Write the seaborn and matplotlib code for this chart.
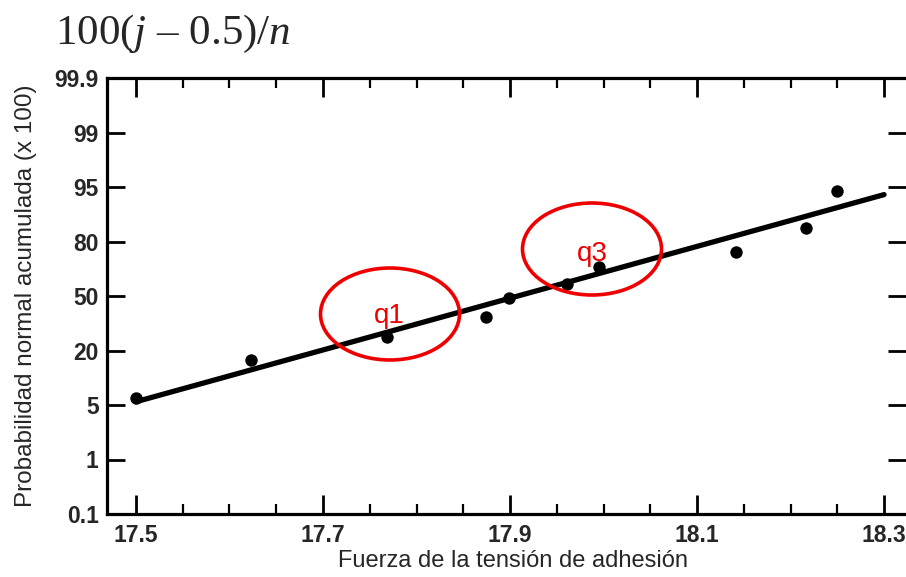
import numpy as np
import pandas as pd
import matplotlib
matplotlib.use("Agg")
import matplotlib.pyplot as plt
import seaborn as sns
from matplotlib.patches import Ellipse

# ---- data ----
fuerza = [17.500, 17.623, 17.768, 17.874, 17.899, 17.961, 17.995, 18.142, 18.217, 18.250]
prob_pct = [6.8, 17.3, 27.2, 38.3, 48.8, 56.6, 65.9, 74.3, 83.6, 93.8]
fit_x = [17.50, 18.30]
fit_pct = [5.9, 92.9]
ytick_vals = [0.1, 1, 5, 20, 50, 80, 95, 99, 99.9]
ytick_labels = ["0.1", "1", "5", "20", "50", "80", "95", "99", "99.9"]
xtick_vals = [17.5, 17.7, 17.9, 18.1, 18.3]
xtick_labels = ["17.5", "17.7", "17.9", "18.1", "18.3"]
annot_labels = ["q1", "q3"]

df = pd.DataFrame({"x": fuerza, "p": prob_pct})
fit = pd.DataFrame({"x": fit_x, "p": fit_pct})

sns.set_theme(style="white")
plt.rcParams["font.family"] = ["Liberation Sans", "DejaVu Sans"]
plt.rcParams["mathtext.fontset"] = "custom"
plt.rcParams["mathtext.rm"] = "Liberation Serif"
plt.rcParams["mathtext.it"] = "Liberation Serif:italic"

pos = np.arange(len(ytick_vals), dtype=float)
tv = np.array(ytick_vals, dtype=float)

def fwd(p):
    return np.interp(p, tv, pos)

def inv(q):
    return np.interp(q, pos, tv)

fig = plt.figure(figsize=(9.06, 5.77), dpi=100)
ax = fig.add_axes([107 / 906, 1 - 514 / 577, 1 - 107 / 906, (514 - 78) / 577])
ax.set_yscale("function", functions=(fwd, inv))

sns.lineplot(data=fit, x="x", y="p", ax=ax, color="black", lw=3.8, zorder=2)
sns.scatterplot(data=df, x="x", y="p", ax=ax, color="black", s=80,
                edgecolor="black", linewidth=0, zorder=3)

ax.set_xlim(17.469, 18.3235)
ax.set_ylim(0.1, 99.9)

ax.set_yticks(ytick_vals)
ax.set_yticklabels(ytick_labels)
ax.set_xticks(xtick_vals)
ax.set_xticklabels(xtick_labels)
ax.set_xticks(np.arange(17.5, 18.31, 0.05), minor=True)
ax.yaxis.set_minor_locator(matplotlib.ticker.NullLocator())

for s in ["left", "top", "bottom"]:
    ax.spines[s].set_linewidth(2.3)
    ax.spines[s].set_color("black")
ax.spines["right"].set_visible(False)

ax.tick_params(axis="both", which="major", direction="in", color="black",
               width=2.0, length=14, labelsize=16.5)
ax.tick_params(axis="x", which="minor", direction="in", color="black",
               width=1.6, length=7, top=True, bottom=True)
ax.tick_params(axis="x", which="major", top=True, bottom=True, pad=7)
ax.tick_params(axis="y", which="major", left=True, right=True, length=13, pad=6)
for lab in ax.get_xticklabels() + ax.get_yticklabels():
    lab.set_fontweight("bold")

xl = ax.set_xlabel("Fuerza de la tensión de adhesión", fontsize=17)
yl = ax.set_ylabel("Probabilidad normal acumulada (x 100)", fontsize=17.5)
xl.set_va("center")
yl.set_va("center")
ax.xaxis.set_label_coords((513 - 107) / 799, -(561 - 514) / 436)
ax.yaxis.set_label_coords(-(107 - 26) / 799, (514 - 296) / 436)

# red annotation ellipses (axes-fraction coords)
ell = [((390 - 107) / 799, (514 - 314) / 436), ((592 - 107) / 799, (514 - 249) / 436)]
txt = [((389 - 107) / 799, (514 - 316) / 436), ((592 - 107) / 799, (514 - 254) / 436)]
for (cx, cy), (tx, ty), lab in zip(ell, txt, annot_labels):
    ax.add_patch(Ellipse((cx, cy), 139 / 799, 92 / 436, transform=ax.transAxes,
                         fill=False, edgecolor="#ee0000", lw=2.6, zorder=4))
    ax.text(tx, ty, lab, transform=ax.transAxes, color="#ee0000", fontsize=20,
            ha="center", va="center", family="Liberation Sans", zorder=5)

fig.text(55 / 906, 1 - 34 / 577, r"100($j$ – 0.5)/$n$", fontsize=31,
         family="Liberation Serif", ha="left", va="center")

fig.savefig("out.png", dpi=100)
